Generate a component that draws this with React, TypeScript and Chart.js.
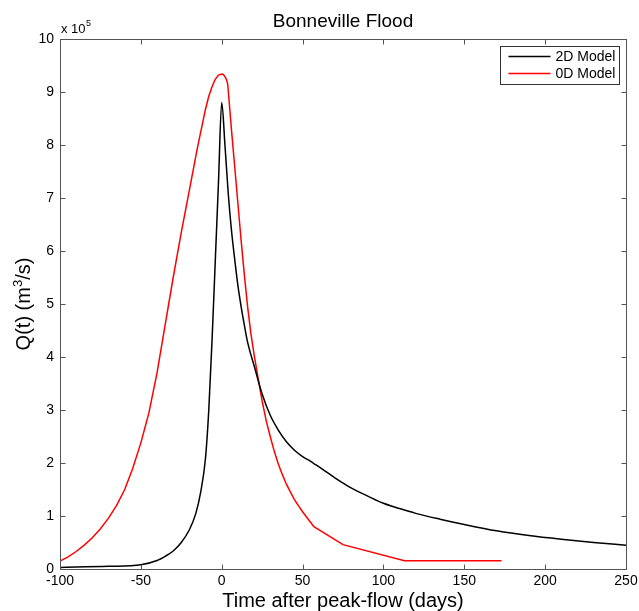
import React, { useEffect, useRef } from "react";
import { Chart, registerables } from "chart.js";

Chart.register(...registerables);

// 2D model: time after peak (days) and Q (x 10^5 m^3/s)
const days2D = [-100, -70, -50, -40, -35, -30, -25, -20, -16, -13, -10, -8, -6, -4, -2, 0, 2, 4, 6, 8, 10, 12, 14, 16, 20, 25, 30, 35, 40, 45, 50, 55, 58, 62, 70, 80, 90, 100, 110, 120, 135, 150, 170, 190, 210, 230, 250];
const q2D = [0.03, 0.05, 0.08, 0.16, 0.24, 0.34, 0.5, 0.74, 1.05, 1.45, 2.1, 3.0, 4.3, 5.8, 7.3, 8.8, 8.0, 7.1, 6.4, 5.85, 5.35, 4.95, 4.6, 4.28, 3.84, 3.3, 2.9, 2.62, 2.4, 2.24, 2.12, 2.03, 1.97, 1.89, 1.72, 1.53, 1.38, 1.24, 1.14, 1.05, 0.94, 0.84, 0.72, 0.63, 0.56, 0.5, 0.45];

// 0D model
const days0D = [-100, -95, -90, -85, -80, -75, -70, -65, -60, -55, -50, -45, -40, -35, -30, -25, -20, -15, -10, -8, -6, -4, -2, 0, 1, 2, 3, 3.7, 6, 8, 10, 12, 14, 16, 18, 20, 22.5, 25, 27.5, 30, 32.5, 35, 37.5, 40, 42.5, 45, 47.5, 50, 53.5, 57, 75, 113, 173];
const q0D = [0.15, 0.23, 0.33, 0.45, 0.59, 0.76, 0.96, 1.2, 1.5, 1.9, 2.38, 2.95, 3.7, 4.6, 5.5, 6.35, 7.15, 7.95, 8.68, 8.92, 9.1, 9.24, 9.32, 9.34, 9.33, 9.29, 9.23, 9.15, 8.3, 7.6, 6.9, 6.2, 5.55, 4.95, 4.45, 4.05, 3.6, 3.17, 2.8, 2.5, 2.22, 1.98, 1.78, 1.6, 1.45, 1.31, 1.19, 1.08, 0.94, 0.8, 0.46, 0.157, 0.157];

const xTickValues = [-100, -50, 0, 50, 100, 150, 200, 250];
const yTickValues = [0, 1, 2, 3, 4, 5, 6, 7, 8, 9, 10];
const seriesLabels = ["2D Model", "0D Model"];
const seriesColors = ["#000000", "#ff0000"];
const chartTitle = "Bonneville Flood";
const xAxisTitle = "Time after peak-flow (days)";
const yAxisTitleParts = ["Q(t) (m", "3", "/s)"];
const exponentParts = ["x 10", "5"];

const FONT = "'Liberation Sans', Arial, Helvetica, sans-serif";

export default function App() {
  const ref = useRef<HTMLCanvasElement>(null);

  useEffect(() => {
    if (!ref.current) return;

    const decor = {
      id: "decor",
      afterDraw(chart: any) {
        const { ctx, chartArea: a, scales } = chart;
        const xs = scales.x;
        const ys = scales.y;
        const L = Math.round(a.left) + 0.5;
        const R = Math.round(a.right) + 0.5;
        const T = Math.round(a.top) + 0.5;
        const B = Math.round(a.bottom) + 0.5;
        ctx.save();
        ctx.strokeStyle = "#555555";
        ctx.lineWidth = 1;
        ctx.strokeRect(L, T, R - L, B - T);
        const tl = 5;
        ctx.beginPath();
        xTickValues.forEach((v) => {
          const px = Math.round(xs.getPixelForValue(v)) + 0.5;
          ctx.moveTo(px, B);
          ctx.lineTo(px, B - tl);
          ctx.moveTo(px, T);
          ctx.lineTo(px, T + tl);
        });
        yTickValues.forEach((v) => {
          const py = Math.round(ys.getPixelForValue(v)) + 0.5;
          ctx.moveTo(L, py);
          ctx.lineTo(L + tl, py);
          ctx.moveTo(R, py);
          ctx.lineTo(R - tl, py);
        });
        ctx.stroke();

        // title
        ctx.fillStyle = "#000";
        ctx.textAlign = "center";
        ctx.textBaseline = "alphabetic";
        ctx.font = `19px ${FONT}`;
        ctx.fillText(chartTitle, (a.left + a.right) / 2, 27);

        // x axis title
        ctx.font = `20px ${FONT}`;
        ctx.fillText(xAxisTitle, (a.left + a.right) / 2, 607);

        // exponent label
        ctx.textAlign = "left";
        ctx.font = `13px ${FONT}`;
        ctx.fillText(exponentParts[0], a.left + 1, 33);
        const w0 = ctx.measureText(exponentParts[0]).width;
        ctx.font = `9px ${FONT}`;
        ctx.fillText(exponentParts[1], a.left + 1 + w0 + 0.5, 26);

        // y axis title (rotated with superscript)
        ctx.save();
        const cy = (a.top + a.bottom) / 2;
        ctx.translate(30, cy);
        ctx.rotate(-Math.PI / 2);
        const big = `20px ${FONT}`;
        const small = `13px ${FONT}`;
        ctx.font = big;
        const wA = ctx.measureText(yAxisTitleParts[0]).width;
        const wC = ctx.measureText(yAxisTitleParts[2]).width;
        ctx.font = small;
        const wB = ctx.measureText(yAxisTitleParts[1]).width;
        let x = -(wA + wB + wC) / 2;
        ctx.font = big;
        ctx.fillText(yAxisTitleParts[0], x, 0);
        x += wA;
        ctx.font = small;
        ctx.fillText(yAxisTitleParts[1], x, -8);
        x += wB;
        ctx.font = big;
        ctx.fillText(yAxisTitleParts[2], x, 0);
        ctx.restore();

        // legend
        const bx = Math.round(a.right) - 126 + 0.5;
        const by = Math.round(a.top) + 7 + 0.5;
        const bw = 119;
        const bh = 38;
        ctx.fillStyle = "#fff";
        ctx.fillRect(bx, by, bw, bh);
        ctx.strokeStyle = "#333";
        ctx.lineWidth = 1;
        ctx.strokeRect(bx, by, bw, bh);
        ctx.font = `14px ${FONT}`;
        ctx.textBaseline = "middle";
        seriesLabels.forEach((lab, i) => {
          const ly = by + 10 + i * 17;
          ctx.strokeStyle = seriesColors[i];
          ctx.lineWidth = 1.5;
          ctx.beginPath();
          ctx.moveTo(bx + 8, ly);
          ctx.lineTo(bx + 50, ly);
          ctx.stroke();
          ctx.fillStyle = "#000";
          ctx.fillText(lab, bx + 55, ly + 1);
        });
        ctx.restore();
      },
    };

    const chart = new Chart(ref.current, {
      type: "scatter",
      data: {
        datasets: [
          {
            label: seriesLabels[0],
            data: days2D.map((d, i) => ({ x: d, y: q2D[i] })),
            showLine: true,
            borderColor: seriesColors[0],
            backgroundColor: seriesColors[0],
            borderWidth: 1.5,
            pointRadius: 0,
            cubicInterpolationMode: "monotone",
          },
          {
            label: seriesLabels[1],
            data: days0D.map((d, i) => ({ x: d, y: q0D[i] })),
            showLine: true,
            borderColor: seriesColors[1],
            backgroundColor: seriesColors[1],
            borderWidth: 1.5,
            pointRadius: 0,
            tension: 0,
          },
        ],
      },
      options: {
        responsive: false,
        animation: false,
        devicePixelRatio: 1,
        layout: { padding: { top: 39, right: 13, left: 0, bottom: 0 } },
        plugins: {
          legend: { display: false },
          title: { display: false },
          tooltip: { enabled: false },
        },
        scales: {
          x: {
            type: "linear",
            min: -100,
            max: 250,
            afterBuildTicks: (s: any) => {
              s.ticks = xTickValues.map((v) => ({ value: v }));
            },
            afterFit: (s: any) => {
              s.height = 42;
              s.paddingLeft = 0;
              s.paddingRight = 0;
            },
            grid: { display: false, drawTicks: false },
            border: { display: false },
            ticks: {
              padding: 4,
              maxRotation: 0,
              autoSkip: false,
              color: "#000",
              font: { family: FONT, size: 14 },
            },
          },
          y: {
            type: "linear",
            min: 0,
            max: 10,
            afterBuildTicks: (s: any) => {
              s.ticks = yTickValues.map((v) => ({ value: v }));
            },
            afterFit: (s: any) => {
              s.width = 60;
              s.paddingTop = 0;
              s.paddingBottom = 0;
            },
            grid: { display: false, drawTicks: false },
            border: { display: false },
            ticks: {
              padding: 6,
              autoSkip: false,
              color: "#000",
              font: { family: FONT, size: 14 },
            },
          },
        },
      },
      plugins: [decor],
    } as any);

    return () => chart.destroy();
  }, []);

  return (
    <div style={{ position: "absolute", left: 0, top: 0, width: 639, height: 611, background: "#fff" }}>
      <canvas ref={ref} width={639} height={611} style={{ display: "block" }} />
    </div>
  );
}
